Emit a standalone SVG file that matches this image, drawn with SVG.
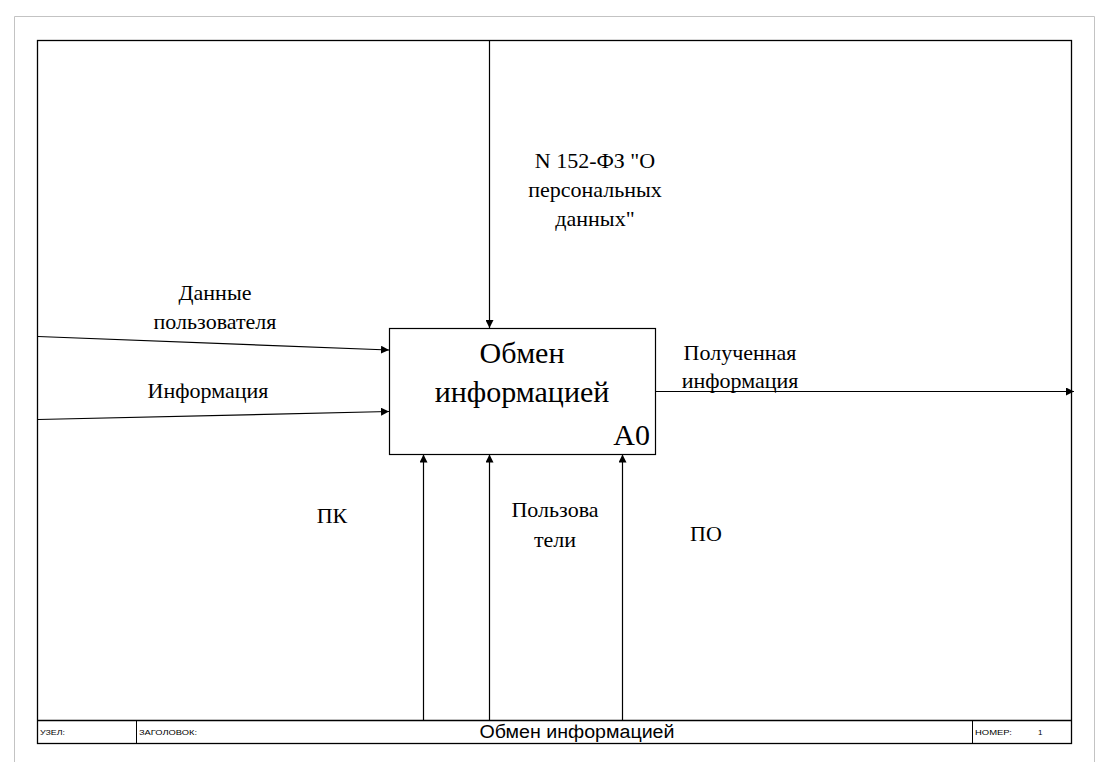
<svg xmlns="http://www.w3.org/2000/svg" width="1100" height="762" viewBox="0 0 1100 762">
<style>
.lbl{font-size:22px;fill:#000;text-anchor:middle}
.ttl{font-size:30px;fill:#000;text-anchor:middle}
.sm{font-family:'Liberation Sans',Arial,sans-serif;font-size:8px;fill:#000}
.ln{stroke:#000;stroke-width:1.2;fill:none}
</style>
<defs>
<marker id="ah" viewBox="0 0 10 10" refX="10" refY="5" markerWidth="8" markerHeight="8" markerUnits="userSpaceOnUse" orient="auto">
<path d="M0,0 L10,5 L0,10 z" fill="#000"/>
</marker>
</defs>
<rect width="1100" height="762" fill="#fff"/>
<path d="M14.5,770 V16.5 H1094.5 V770" fill="none" stroke="#c3c3c3" stroke-width="1"/>
<g id="frame">
<rect x="37.5" y="40.5" width="1034" height="703" fill="none" stroke="#000" stroke-width="1.3"/>
<line x1="37.5" y1="720.5" x2="1071.5" y2="720.5" stroke="#000" stroke-width="1.3"/>
<line x1="136.5" y1="720.5" x2="136.5" y2="743.5" stroke="#000" stroke-width="1"/>
<line x1="972.5" y1="720.5" x2="972.5" y2="743.5" stroke="#000" stroke-width="1"/>
<text class="sm" x="40" y="735" textLength="25" lengthAdjust="spacingAndGlyphs">УЗЕЛ:</text>
<text class="sm" x="139" y="735" textLength="58" lengthAdjust="spacingAndGlyphs">ЗАГОЛОВОК:</text>
<text x="577" y="738" font-family="Liberation Sans, Arial, sans-serif" font-size="18" text-anchor="middle" textLength="195" lengthAdjust="spacingAndGlyphs">Обмен информацией</text>
<text class="sm" x="975" y="735" textLength="37" lengthAdjust="spacingAndGlyphs">НОМЕР:</text>
<text class="sm" x="1038" y="735">1</text>
</g>
<g id="connectors">
<line class="ln" x1="489.5" y1="41" x2="489.5" y2="328" marker-end="url(#ah)"/>
<line class="ln" x1="38" y1="336.5" x2="389" y2="350" marker-end="url(#ah)"/>
<line class="ln" x1="38" y1="419.5" x2="389" y2="411.5" marker-end="url(#ah)"/>
<line class="ln" x1="655.5" y1="391.5" x2="1074" y2="391.5" marker-end="url(#ah)"/>
<line class="ln" x1="423.5" y1="720" x2="423.5" y2="454.5" marker-end="url(#ah)"/>
<line class="ln" x1="489.5" y1="720" x2="489.5" y2="454.5" marker-end="url(#ah)"/>
<line class="ln" x1="622.5" y1="720" x2="622.5" y2="454.5" marker-end="url(#ah)"/>
<g font-family="Liberation Serif, Times New Roman, Times, DejaVu Serif, Noto Serif, serif">
<text class="lbl" x="595" y="168">N 152-ФЗ "О</text>
<text class="lbl" x="595" y="197">персональных</text>
<text class="lbl" x="595" y="226">данных"</text>
<text class="lbl" x="215" y="300">Данные</text>
<text class="lbl" x="215" y="329">пользователя</text>
<text class="lbl" x="208" y="398">Информация</text>
<text class="lbl" x="740" y="360">Полученная</text>
<text class="lbl" x="740" y="388">информация</text>
<text class="lbl" x="332" y="523">ПК</text>
<text class="lbl" x="555" y="517">Пользова</text>
<text class="lbl" x="555" y="547">тели</text>
<text class="lbl" x="706" y="541">ПО</text>
</g>
</g>
<g id="node-A0" font-family="Liberation Serif, Times New Roman, Times, DejaVu Serif, Noto Serif, serif">
<rect x="389.5" y="328.5" width="266" height="126" fill="#fff" stroke="#000" stroke-width="1.2"/>
<text class="ttl" x="522" y="363">Обмен</text>
<text class="ttl" x="522" y="402">информацией</text>
<text class="ttl" x="650" y="445" style="text-anchor:end">A0</text>
</g>
</svg>
